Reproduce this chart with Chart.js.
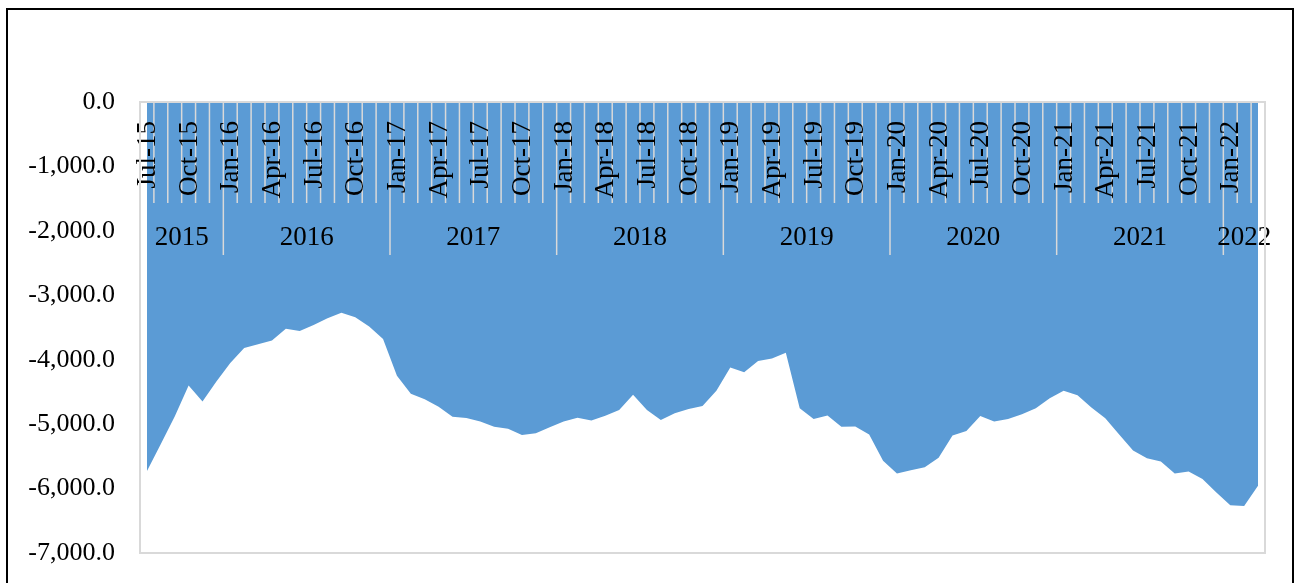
<!DOCTYPE html>
<html>
<head>
<meta charset="utf-8">
<script src="https://cdn.jsdelivr.net/npm/chart.js@4.4.1/dist/chart.umd.min.js"></script>
<style>
  html, body { margin: 0; padding: 0; background: #ffffff; }
  #wrap { position: relative; width: 1297px; height: 583px; overflow: hidden; }
  #frame { position: absolute; left: 6px; top: 8px; width: 1284px; height: 640px; border: 2px solid #000; pointer-events: none; }
</style>
</head>
<body>
<div id="wrap">
  <canvas id="c" width="1297" height="583"></canvas>
  <div id="frame"></div>
</div>
<script>
const categories = [
  "Jul-15","Aug-15","Sep-15","Oct-15","Nov-15","Dec-15",
  "Jan-16","Feb-16","Mar-16","Apr-16","May-16","Jun-16","Jul-16","Aug-16","Sep-16","Oct-16","Nov-16","Dec-16",
  "Jan-17","Feb-17","Mar-17","Apr-17","May-17","Jun-17","Jul-17","Aug-17","Sep-17","Oct-17","Nov-17","Dec-17",
  "Jan-18","Feb-18","Mar-18","Apr-18","May-18","Jun-18","Jul-18","Aug-18","Sep-18","Oct-18","Nov-18","Dec-18",
  "Jan-19","Feb-19","Mar-19","Apr-19","May-19","Jun-19","Jul-19","Aug-19","Sep-19","Oct-19","Nov-19","Dec-19",
  "Jan-20","Feb-20","Mar-20","Apr-20","May-20","Jun-20","Jul-20","Aug-20","Sep-20","Oct-20","Nov-20","Dec-20",
  "Jan-21","Feb-21","Mar-21","Apr-21","May-21","Jun-21","Jul-21","Aug-21","Sep-21","Oct-21","Nov-21","Dec-21",
  "Jan-22","Feb-22","Mar-22"
];
const seriesValues = [
  -5730, -5310, -4880, -4400, -4650, -4340,
  -4050, -3820, -3760, -3700, -3520, -3555, -3460, -3355, -3270, -3340, -3485, -3680,
  -4250, -4530, -4615, -4730, -4885, -4905, -4960, -5040, -5070, -5170, -5140, -5050,
  -4960, -4900, -4945, -4870, -4780, -4545, -4780, -4935, -4830, -4765, -4720, -4480,
  -4120, -4195, -4020, -3980, -3890, -4755, -4920, -4865, -5040, -5035, -5160, -5570,
  -5765, -5715, -5670, -5520, -5175, -5105, -4875, -4960, -4920, -4845, -4755, -4600,
  -4480, -4550, -4740, -4910, -5160, -5410, -5530, -5580, -5765, -5735, -5850, -6060,
  -6260, -6270, -5955
];
const yearLabels = ["2015","2016","2017","2018","2019","2020","2021","2022"];
const shownMonths = ["Jan","Apr","Jul","Oct"];
const yMin = -7000, yMax = 0, yStep = 1000;

const FONT = "'Liberation Serif', 'Times New Roman', serif";

const axisPlugin = {
  id: 'groupedAxis',
  afterDatasetsDraw(chart) {
    const ctx = chart.ctx;
    const xs = chart.scales.x;
    const area = chart.chartArea;
    const half = (xs.getPixelForValue(1) - xs.getPixelForValue(0)) / 2;
    const top = area.top;
    ctx.save();
    // month tick marks and year separators
    ctx.strokeStyle = '#d9d9d9';
    ctx.lineWidth = 1.5;
    for (let k = 0; k < categories.length; k++) {
      const x = xs.getPixelForValue(k) - half;
      const isYearStart = categories[k].startsWith('Jan');
      ctx.beginPath();
      ctx.moveTo(x, top);
      ctx.lineTo(x, isYearStart ? 255 : 203);
      ctx.stroke();
    }
    // month labels (rotated)
    ctx.fillStyle = '#000';
    ctx.font = "27px " + FONT;
    ctx.textAlign = 'right';
    ctx.textBaseline = 'middle';
    categories.forEach((lab, i) => {
      if (!shownMonths.includes(lab.slice(0, 3))) return;
      const x = xs.getPixelForValue(i);
      ctx.save();
      ctx.translate(x + 1, 121);
      ctx.rotate(-Math.PI / 2);
      ctx.fillText(lab, 0, 0);
      ctx.restore();
    });
    // year labels
    ctx.textAlign = 'center';
    ctx.font = "27px " + FONT;
    yearLabels.forEach(yr => {
      const suffix = '-' + yr.slice(2);
      const idx = categories.map((c, i) => c.endsWith(suffix) ? i : -1).filter(i => i >= 0);
      const x0 = xs.getPixelForValue(idx[0]) - half;
      const x1 = xs.getPixelForValue(idx[idx.length - 1]) + half;
      ctx.fillText(yr, (x0 + x1) / 2, 238);
    });
    // plot area border
    ctx.strokeStyle = '#d9d9d9';
    ctx.lineWidth = 2;
    ctx.strokeRect(area.left, area.top, area.right - area.left, area.bottom - area.top);
    ctx.restore();
  }
};

new Chart(document.getElementById('c'), {
  type: 'line',
  data: {
    labels: categories,
    datasets: [{
      data: seriesValues,
      fill: 'origin',
      backgroundColor: '#5b9bd5',
      borderWidth: 0,
      borderColor: 'rgba(0,0,0,0)',
      pointRadius: 0,
      tension: 0
    }]
  },
  options: {
    responsive: false,
    animation: false,
    devicePixelRatio: 1,
    layout: { padding: { top: 102, left: 0, right: 32, bottom: 30 } },
    plugins: { legend: { display: false }, tooltip: { enabled: false } },
    scales: {
      x: {
        type: 'category',
        display: false,
        offset: true,
        grid: { offset: true }
      },
      y: {
        min: yMin,
        max: yMax,
        ticks: {
          stepSize: yStep,
          padding: 25,
          color: '#000',
          font: { family: FONT, size: 26 },
          callback: v => Number(v).toLocaleString('en-US', { minimumFractionDigits: 1, maximumFractionDigits: 1 })
        },
        grid: { display: false, drawTicks: false },
        border: { display: false },
        afterFit(scale) {
          scale.width = 140;
          scale.paddingTop = 0;
          scale.paddingBottom = 0;
        }
      }
    }
  },
  plugins: [axisPlugin]
});
</script>
</body>
</html>
